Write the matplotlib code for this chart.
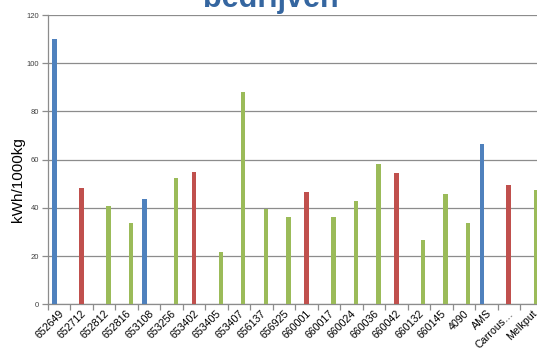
import numpy as np
import matplotlib
matplotlib.use("Agg")
import matplotlib.pyplot as plt

plt.rcParams['font.family'] = ['Liberation Sans', 'DejaVu Sans']

categories = ["652649", "652712", "652812", "652816", "653108", "653256",
              "653402", "653405", "653407", "656137", "656925", "660001",
              "660017", "660024", "660036", "660042", "660132", "660145",
              "4090", "AMS", "Carrous…", "Melkput"]

nan = np.nan
group_a = [110, nan, nan, nan, 43.6, nan, nan, nan, nan, nan, nan, nan,
           nan, nan, nan, nan, nan, nan, nan, 66.6, nan, nan]
group_b = [nan, 48.4, nan, nan, nan, nan, 55.0, nan, nan, nan, nan, 46.4,
           nan, nan, nan, 54.6, nan, nan, nan, nan, 49.4, nan]
group_c = [nan, nan, 40.8, 33.9, nan, 52.4, nan, 21.9, 88.2, 39.6, 36.1, nan,
           36.1, 42.8, 58.1, nan, 26.7, 45.9, 33.6, nan, nan, 47.3]

y_ticks = [0, 20, 40, 60, 80, 100, 120]

colors = ["#4F81BD", "#C0504D", "#9BBB59"]

W, H = 537, 350
fig = plt.figure(figsize=(W / 100, H / 100), dpi=100)
ax = fig.add_axes([47.5 / W, 1 - 304.3 / H, 22 * 22.5 / W, (304.3 - 15) / H])

x = np.arange(len(categories))
bw = 0.2
for i, (vals, c) in enumerate(zip([group_a, group_b, group_c], colors)):
    ax.bar(x + (i - 1) * bw, np.array(vals, dtype=float), width=bw,
           color=c, zorder=3, linewidth=0)

ax.set_xlim(-0.5, len(categories) - 0.5)
ax.set_ylim(0, 120)
ax.set_yticks(y_ticks)
ax.set_yticklabels([str(v) for v in y_ticks], fontsize=5.5, color="#404040")
ax.yaxis.grid(True, color="#8C8C8C", linewidth=0.9, zorder=0)
ax.set_axisbelow(True)

ax.set_xticks(x)
ax.set_xticklabels(categories, rotation=45, ha="right", va="top",
                   rotation_mode="anchor", fontsize=7.7, color="#000000")
ax.tick_params(axis="x", length=0, pad=3)
ax.set_xticks(np.arange(len(categories) + 1) - 0.5, minor=True)
ax.tick_params(axis="x", which="minor", length=4, color="#8C8C8C", width=0.9)
ax.tick_params(axis="y", length=4, color="#8C8C8C", width=0.9, pad=2)

for s in ["top", "right"]:
    ax.spines[s].set_visible(False)
for s in ["left", "bottom"]:
    ax.spines[s].set_color("#8C8C8C")
    ax.spines[s].set_linewidth(0.9)

fig.text(18 / W, 0.5 - 5 / H, "kWh/1000kg", rotation=90, ha="center",
         va="center", fontsize=11)
fig.text(271 / W, 1 - 6.5 / H, "bedrijven", ha="center", va="baseline",
         fontsize=22, fontweight="bold", color="#3566A0")

fig.savefig("out.png", dpi=100)
